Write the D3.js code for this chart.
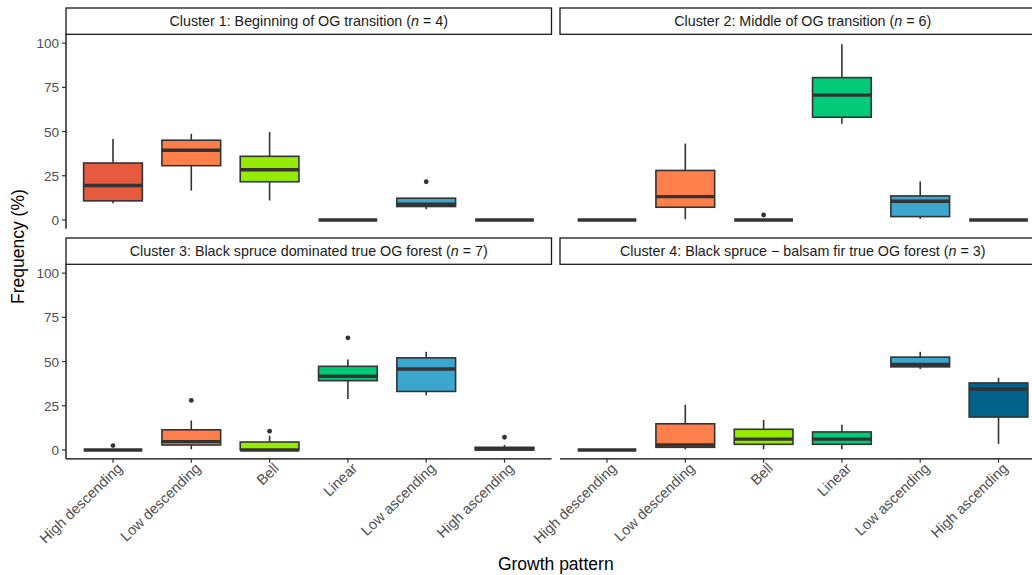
<!DOCTYPE html>
<html><head><meta charset="utf-8">
<script src="https://cdn.jsdelivr.net/npm/d3@7"></script>
<style>body{margin:0;background:#fff}svg{display:block}text{font-family:"Liberation Sans",Arial,sans-serif}</style>
</head><body><svg id="c" width="1032" height="575"></svg>
<script>
const categories = ["High descending","Low descending","Bell","Linear","Low ascending","High ascending"];
const fillColors = ["#E65A40","#FF7F4A","#94EB00","#00CC78","#3DA6CE","#036289"];
const clusterTitles = [
  ["Cluster 1: Beginning of OG transition (", "n", " = 4)"],
  ["Cluster 2: Middle of OG transition (", "n", " = 6)"],
  ["Cluster 3: Black spruce dominated true OG forest (", "n", " = 7)"],
  ["Cluster 4: Black spruce \u2212 balsam fir true OG forest (", "n", " = 3)"]
];
const yTicks = [0,25,50,75,100];
// [lower whisker, Q1, median, Q3, upper whisker] per growth pattern
const cluster1Stats = [[9.5,10.8,19.5,32.2,45.8],[16.6,30.7,39.4,45.1,48.7],[11,21.6,28.4,36,49.8],[0,0,0,0,0],[6.1,7.6,8.9,12.3,12.3],[0,0,0,0,0]];
const cluster2Stats = [[0,0,0,0,0],[0.4,7.2,13.2,28,43.2],[0,0,0,0,0],[54.4,58.1,70.6,80.5,99.4],[0.6,1.9,10.6,13.6,21.8],[0,0,0,0,0]];
const cluster3Stats = [[0,0,0,0,0],[0.4,2.8,4.7,11.4,16.7],[0,0,0,4.5,8],[28.8,39.2,41.7,47.3,51.1],[30.9,33.1,45.8,52.1,55.5],[0,0,0.5,1.5,2.8]];
const cluster4Stats = [[0,0,0,0,0],[0.4,1.5,2.8,14.8,25.6],[0.4,3.2,6.1,11.7,17],[0.4,3.2,6.1,10.2,14.2],[45.8,47,48.3,52.5,55.5],[3.4,18.6,34.5,37.9,40.9]];
// outliers: [category index, value]
const cluster1Outliers = [[4,21.6]];
const cluster2Outliers = [[2,2.8]];
const cluster3Outliers = [[0,2.5],[1,28],[2,10.6],[3,63.4],[5,7.2]];
const cluster4Outliers = [];

const stats = [cluster1Stats,cluster2Stats,cluster3Stats,cluster4Stats];
const outliers = [cluster1Outliers,cluster2Outliers,cluster3Outliers,cluster4Outliers];

const svg = d3.select("#c");
const panelW = 485.5, panelH = 194.5, stripH = 26.3;
const colX = [66, 560];
const rowTop = [34.3, 264.3];
const lineCol = "#333333";

stats.forEach((st, k) => {
  const col = k % 2, row = Math.floor(k / 2);
  const x0 = colX[col], top = rowTop[row], bottom = top + panelH;
  const x = d3.scaleBand().domain(categories).range([x0, x0 + panelW]).paddingInner(0).paddingOuter(0.1);
  const y = d3.scaleLinear().domain([-5, 105]).range([bottom, top]);
  const g = svg.append("g");
  const bw = x.bandwidth() * 0.75;

  // strip
  g.append("rect").attr("x", x0).attr("y", top - stripH).attr("width", panelW).attr("height", stripH)
    .attr("fill", "#fff").attr("stroke", "#1a1a1a").attr("stroke-width", 1.3);
  const t = g.append("text").attr("x", x0 + panelW / 2).attr("y", top - stripH / 2 + 5)
    .attr("text-anchor", "middle").attr("font-size", 14.3).attr("fill", "#1a1a1a");
  t.append("tspan").text(clusterTitles[k][0]);
  t.append("tspan").attr("font-style", "italic").text(clusterTitles[k][1]);
  t.append("tspan").text(clusterTitles[k][2]);

  // boxes
  st.forEach((s, i) => {
    const cx = x(categories[i]) + x.bandwidth() / 2;
    const [lo, q1, med, q3, hi] = s;
    g.append("line").attr("x1", cx).attr("x2", cx).attr("y1", y(hi)).attr("y2", y(q3)).attr("stroke", lineCol).attr("stroke-width", 1.6);
    g.append("line").attr("x1", cx).attr("x2", cx).attr("y1", y(q1)).attr("y2", y(lo)).attr("stroke", lineCol).attr("stroke-width", 1.6);
    g.append("rect").attr("x", cx - bw / 2).attr("y", y(q3)).attr("width", bw).attr("height", Math.max(0, y(q1) - y(q3)))
      .attr("fill", fillColors[i]).attr("stroke", lineCol).attr("stroke-width", 1.6);
    g.append("line").attr("x1", cx - bw / 2).attr("x2", cx + bw / 2).attr("y1", y(med)).attr("y2", y(med))
      .attr("stroke", lineCol).attr("stroke-width", 3.4);
  });
  outliers[k].forEach(([i, v]) => {
    const cx = x(categories[i]) + x.bandwidth() / 2;
    g.append("circle").attr("cx", cx).attr("cy", y(v)).attr("r", 2.4).attr("fill", lineCol);
  });

  // y axis on left column
  if (col === 0) {
    g.append("line").attr("x1", x0).attr("x2", x0).attr("y1", top).attr("y2", bottom).attr("stroke", "#000").attr("stroke-width", 1.3);
    yTicks.forEach(v => {
      g.append("line").attr("x1", x0 - 4).attr("x2", x0).attr("y1", y(v)).attr("y2", y(v)).attr("stroke", lineCol).attr("stroke-width", 1.2);
      g.append("text").attr("x", x0 - 7).attr("y", y(v) + 5).attr("text-anchor", "end").attr("font-size", 13.5).attr("fill", "#4d4d4d").text(v);
    });
  }
  // x axis on bottom row
  if (row === 1) {
    g.append("line").attr("x1", x0).attr("x2", x0 + panelW).attr("y1", bottom).attr("y2", bottom).attr("stroke", "#000").attr("stroke-width", 1.3);
    categories.forEach(c => {
      const cx = x(c) + x.bandwidth() / 2;
      g.append("line").attr("x1", cx).attr("x2", cx).attr("y1", bottom).attr("y2", bottom + 4).attr("stroke", lineCol).attr("stroke-width", 1.2);
      g.append("text").attr("transform", `translate(${cx + 3},${bottom + 3}) rotate(-44)`)
        .attr("text-anchor", "end").attr("dy", "0.72em").attr("font-size", 14.5).attr("fill", "#4d4d4d").text(c);
    });
  }
});

svg.append("text").attr("x", colX[0] + (colX[1] + panelW - colX[0]) / 2).attr("y", 570)
  .attr("text-anchor", "middle").attr("font-size", 17.5).attr("fill", "#000").text("Growth pattern");
svg.append("text").attr("transform", `translate(24,${(rowTop[0] + rowTop[1] + panelH) / 2}) rotate(-90)`)
  .attr("text-anchor", "middle").attr("font-size", 17.5).attr("fill", "#000").text("Frequency (%)");
</script></body></html>
